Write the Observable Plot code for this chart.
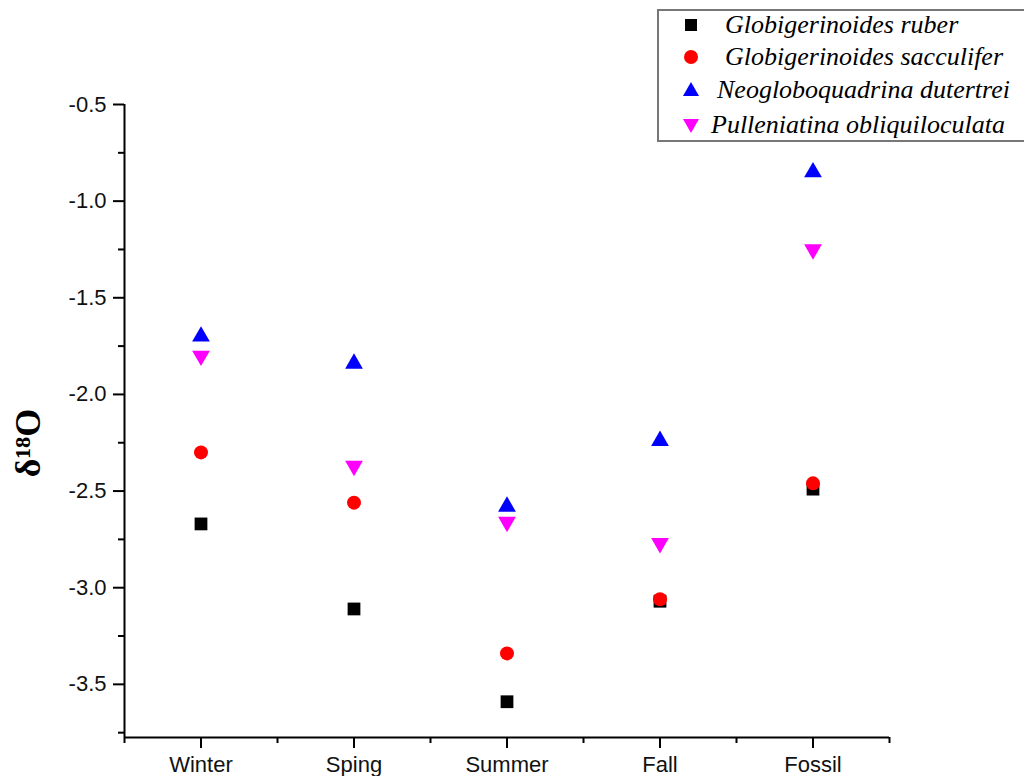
<!DOCTYPE html>
<html>
<head>
<meta charset="utf-8">
<script src="https://cdn.jsdelivr.net/npm/d3@7"></script>
<script src="https://cdn.jsdelivr.net/npm/@observablehq/plot@0.6"></script>
<style>
  body { margin: 0; background: #fff; }
  #wrap { position: relative; width: 1024px; height: 776px; overflow: hidden; background: #fff; }
  #legend { position: absolute; left: 657px; top: 9px; width: 440px; height: 133px; border: 2px solid #777; background: #fff; box-sizing: border-box; }
  .row { position: absolute; left: 0; height: 30px; width: 440px; }
  .row svg { position: absolute; left: 22px; top: 5px; }
  .row span { position: absolute; left: 64px; top: 0; font-family: "Liberation Serif", "Times New Roman", serif; font-style: italic; font-size: 26px; line-height: 30px; white-space: nowrap; color: #000; }
</style>
</head>
<body>
<div id="wrap">
  <div id="chart"></div>
  <div id="legend"></div>
</div>
<script>
const categories = ["Winter", "Sping", "Summer", "Fall", "Fossil"];
const seriesNames = ["Globigerinoides ruber", "Globigerinoides sacculifer", "Neogloboquadrina dutertrei", "Pulleniatina obliquiloculata"];
const ruber       = [-2.67, -3.11, -3.59, -3.07, -2.49];
const sacculifer  = [-2.30, -2.56, -3.34, -3.06, -2.46];
const dutertrei   = [-1.70, -1.84, -2.58, -2.24, -0.85];
const obliqui     = [-1.80, -2.37, -2.66, -2.77, -1.25];
const yMajor = [-0.5, -1.0, -1.5, -2.0, -2.5, -3.0, -3.5];
const yMinor = [-0.75, -1.25, -1.75, -2.25, -2.75, -3.25, -3.75];
const xMinor = [-0.5, 0.5, 1.5, 2.5, 3.5, 4.5];
const yLabel = "δ¹⁸O";

const triangleDown = {
  draw(context, size) {
    const y = Math.sqrt(size / (Math.sqrt(3) * 3));
    context.moveTo(0, 2 * y);
    context.lineTo(-Math.sqrt(3) * y, -y);
    context.lineTo(Math.sqrt(3) * y, -y);
    context.closePath();
  }
};

const rows = (vals) => vals.map((v, i) => ({x: i, y: v}));

const plot = Plot.plot({
  width: 1024,
  height: 776,
  marginLeft: 124,
  marginRight: 135,
  marginTop: 104,
  marginBottom: 39,
  style: {fontFamily: "'Liberation Sans', Arial, sans-serif", fontSize: "22px", color: "#000", background: "#fff", overflow: "visible"},
  x: {domain: [-0.5, 4.5], axis: null},
  y: {domain: [-3.775, -0.5], axis: null},
  marks: [
    Plot.axisY({ticks: yMajor, tickSize: 11, tickPadding: 7, tickFormat: d => d.toFixed(1), label: null, strokeWidth: 2, fontSize: 22, fill: "#111"}),
    Plot.axisY({ticks: yMinor, tickSize: 6, tickFormat: () => "", label: null, strokeWidth: 2}),
    Plot.axisX({ticks: [0, 1, 2, 3, 4], tickSize: 11, tickPadding: 8, tickFormat: i => categories[i], label: null, strokeWidth: 2, fontSize: 22, fill: "#111"}),
    Plot.axisX({ticks: xMinor, tickSize: 6, tickFormat: () => "", label: null, strokeWidth: 2}),
    Plot.ruleX([-0.5], {strokeWidth: 2}),
    Plot.ruleY([-3.775], {strokeWidth: 2}),
    Plot.text([yLabel], {frameAnchor: "left", textAnchor: "middle", rotate: -90, dx: -96, dy: 22, fontSize: 36, fontWeight: "bold", fontFamily: "'Liberation Serif', 'Times New Roman', serif", fill: "#000"}),
    Plot.dot(rows(ruber), {x: "x", y: "y", symbol: "square", r: 7.2, fill: "#000"}),
    Plot.dot(rows(sacculifer), {x: "x", y: "y", symbol: "circle", r: 7, fill: "#ff0000"}),
    Plot.dot(rows(dutertrei), {x: "x", y: "y", symbol: "triangle", r: 6.6, fill: "#0000ff"}),
    Plot.dot(rows(obliqui), {x: "x", y: "y", symbol: triangleDown, r: 6.6, fill: "#ff00ff"})
  ]
});
document.getElementById("chart").appendChild(plot);

// legend
const legendSymbols = [
  '<svg width="20" height="20"><rect x="4" y="4" width="12" height="12" fill="#000"/></svg>',
  '<svg width="20" height="20"><circle cx="10" cy="10" r="7" fill="#ff0000"/></svg>',
  '<svg width="20" height="20"><path d="M10,2 L18,16 L2,16 Z" fill="#0000ff"/></svg>',
  '<svg width="20" height="20"><path d="M2,4 L18,4 L10,18 Z" fill="#ff00ff"/></svg>'
];
const tops = [-1, 31, 64, 99];
const lefts = [66, 66, 58, 52];
const legend = document.getElementById("legend");
seriesNames.forEach((name, i) => {
  const r = document.createElement("div");
  r.className = "row";
  r.style.top = tops[i] + "px";
  r.innerHTML = legendSymbols[i] + '<span style="left:' + lefts[i] + 'px">' + name + '</span>';
  legend.appendChild(r);
});
</script>
</body>
</html>
